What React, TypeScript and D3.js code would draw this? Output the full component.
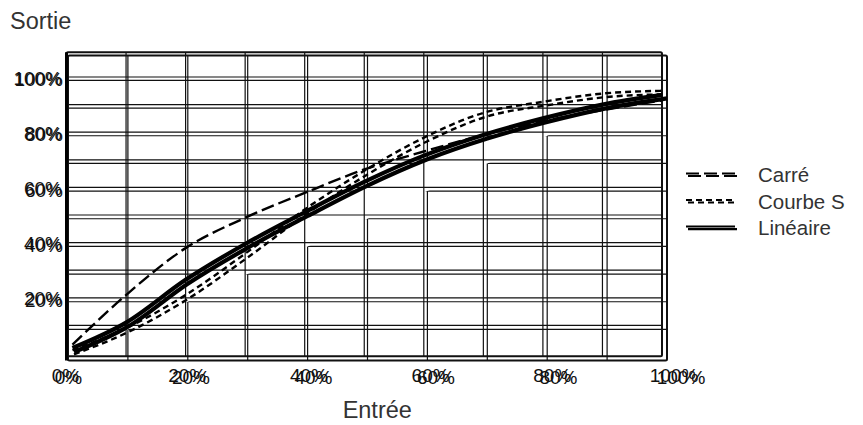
import React from "react";
import * as d3 from "d3";

// ---- data ----
const inputLevels = [0.01, 0.1, 0.2, 0.3, 0.4, 0.5, 0.6, 0.7, 0.8, 0.9, 1.0];
const carreValues = [0.03, 0.21, 0.38, 0.49, 0.58, 0.665, 0.73, 0.79, 0.84, 0.88, 0.915];
const courbeSValues = [0.01, 0.09, 0.21, 0.36, 0.52, 0.66, 0.78, 0.87, 0.91, 0.94, 0.95];
const lineaireValues = [0.018, 0.11, 0.265, 0.395, 0.51, 0.62, 0.715, 0.79, 0.85, 0.9, 0.935];
const seriesNames = ["Carré", "Courbe S", "Linéaire"];
const xTickValues = [0, 0.2, 0.4, 0.6, 0.8, 1];
const yTickValues = [0.2, 0.4, 0.6, 0.8, 1];
const vGridValues = [0.1, 0.2, 0.3, 0.4, 0.5, 0.6, 0.7, 0.8, 0.9];
const hGridValues = [0.1, 0.2, 0.3, 0.4, 0.5, 0.6, 0.7, 0.8, 0.9, 1.0];
const xTitle = "Entrée";
const yTitle = "Sortie";

const W = 863;
const H = 425;
const FONT = "'Liberation Sans', Arial, sans-serif";
const frameDomainY: [number, number] = [-0.012, 1.09];

// two slightly different copies of the chart are superimposed
const copies = [
  {
    x: d3.scaleLinear().domain([0, 1]).range([66.5, 662]),
    y: d3.scaleLinear().domain([0, 1]).range([353, 77]),
    xl: d3.scaleLinear().domain([0, 1]).range([65.5, 674]),
    xlBase: 382,
    ylX: 62,
    ylDy: 1,
    lx: 686,
    ldy: 0,
  },
  {
    x: d3.scaleLinear().domain([0, 1]).range([68, 667]),
    y: d3.scaleLinear().domain([0, 1]).range([357.1, 80.4]),
    xl: d3.scaleLinear().domain([0, 1]).range([68.5, 681]),
    xlBase: 384,
    ylX: 63,
    ylDy: -1,
    lx: 688,
    ldy: 2.6,
  },
];

const seriesList = [
  { name: seriesNames[0], values: carreValues, dash: "13 5", width: 2.4, legendY: 173.5, copies: [0] },
  { name: seriesNames[1], values: courbeSValues, dash: "6 4", width: 2.4, legendY: 200, copies: [0, 1] },
  { name: seriesNames[2], values: lineaireValues, dash: null as string | null, width: 4.2, legendY: 226.5, copies: [0, 1] },
];

function Grid({ c }: { c: (typeof copies)[0] }) {
  const y0 = c.y(frameDomainY[0]);
  const y1 = c.y(frameDomainY[1]);
  const x0 = c.x(0);
  const x1 = c.x(1);
  return (
    <g>
      {vGridValues.map((v) => (
        <line key={"v" + v} x1={c.x(v)} x2={c.x(v)} y1={y1} y2={y0} stroke="#111" strokeWidth={1.2} />
      ))}
      {hGridValues.map((v) => (
        <line key={"h" + v} x1={x0} x2={x1} y1={c.y(v)} y2={c.y(v)} stroke="#111" strokeWidth={1.2} />
      ))}
      <rect x={x0} y={y1} width={x1 - x0} height={y0 - y1} fill="none" stroke="#111" strokeWidth={2} rx={1.5} />
    </g>
  );
}

export default function App() {
  const [A, B] = copies;
  const lineFor = (c: (typeof copies)[0], vals: number[]) =>
    d3
      .line<number>()
      .x((_, i) => c.x(inputLevels[i]))
      .y((d) => c.y(d))
      .curve(d3.curveMonotoneX)(vals) || "";

  const whiteArea =
    d3
      .area<number>()
      .x((_, i) => B.x(inputLevels[i]))
      .y0((_, i) => B.y(inputLevels[i]))
      .y1((d, i) => B.y(Math.max(d, inputLevels[i])))
      .curve(d3.curveMonotoneX)(lineaireValues) || "";

  return (
    <div style={{ position: "absolute", left: 0, top: 0 }}>
      <svg width={W} height={H} style={{ display: "block", background: "#fff" }}>
        {/* copy B grid, then white band, then copy A grid */}
        <Grid c={B} />
        <path d={whiteArea} fill="#fff" stroke="none" />
        <Grid c={A} />
        {/* left axis emphasis */}
        <line x1={A.x(0)} x2={A.x(0)} y1={A.y(frameDomainY[1])} y2={B.y(frameDomainY[0])} stroke="#000" strokeWidth={3} />

        {/* series */}
        {seriesList.map((s) => (
          <g key={s.name}>
            {s.copies.map((ci) => (
              <path
                key={ci}
                d={lineFor(copies[ci], s.values)}
                fill="none"
                stroke="#000"
                strokeWidth={s.width}
                strokeDasharray={s.dash || undefined}
              />
            ))}
          </g>
        ))}

        {/* tick labels, both copies */}
        {copies.map((c, ci) => (
          <g key={"t" + ci} fontFamily={FONT} fontSize={19} fill="#111">
            {yTickValues.map((v) => (
              <text key={"y" + v} x={c.ylX} y={c.y(v) + c.ylDy} textAnchor="end" dominantBaseline="central">
                {d3.format(".0%")(v)}
              </text>
            ))}
            {xTickValues.map((v) => (
              <text key={"x" + v} x={c.xl(v)} y={c.xlBase} textAnchor="middle">
                {d3.format(".0%")(v)}
              </text>
            ))}
          </g>
        ))}

        {/* legend */}
        {copies.map((c, ci) => (
          <g key={"l" + ci}>
            {seriesList.map((s) => (
              <line
                key={s.name}
                x1={c.lx}
                x2={c.lx + 49}
                y1={s.legendY + c.ldy}
                y2={s.legendY + c.ldy}
                stroke="#000"
                strokeWidth={s.dash ? 2 : 2.2}
                strokeDasharray={s.dash || undefined}
              />
            ))}
          </g>
        ))}
        <g fontFamily={FONT} fontSize={20.5} fill="#333">
          {seriesList.map((s) => (
            <text key={s.name} x={758} y={s.legendY + 1.3} dominantBaseline="central">
              {s.name}
            </text>
          ))}
        </g>

        {/* axis titles */}
        <text x={10} y={29} fontFamily={FONT} fontSize={23.5} fill="#333">
          {yTitle}
        </text>
        <text x={(A.x(0) + A.x(1)) / 2 + 13} y={418} fontFamily={FONT} fontSize={23.5} fill="#333" textAnchor="middle">
          {xTitle}
        </text>
      </svg>
    </div>
  );
}
